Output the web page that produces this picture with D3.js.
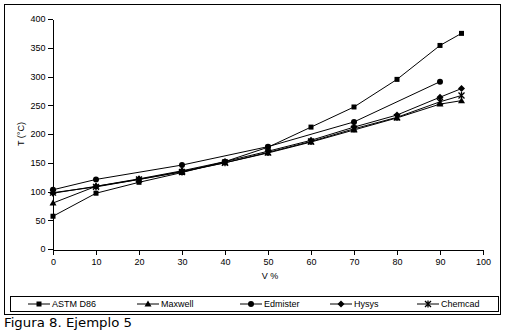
<!DOCTYPE html>
<html><head><meta charset="utf-8">
<script src="https://cdn.jsdelivr.net/npm/d3@7"></script>
<style>
html,body{margin:0;padding:0;background:#fff;}
svg{display:block;}
text{font-family:"Liberation Sans",Arial,sans-serif;fill:#000;}
</style></head>
<body>
<script>
// ---- data ----
const xTicks = [0,10,20,30,40,50,60,70,80,90,100];
const yTicks = [0,50,100,150,200,250,300,350,400];
const vFull = [0,10,20,30,40,50,60,70,80,90,95];
const vEdm  = [0,10,30,50,70,90];
const astm     = [57,97,116,133,152,177,212,247,295,354,375];
const maxwell  = [80,109,121,135,150,167,186,207,228,252,258];
const edmister = [103,121,146,178,221,291];
const hysys    = [97,109,122,136,152,170,189,212,233,264,279];
const chemcad  = [98,108,121,134,150,168,187,209,229,256,267];
const seriesNames = ["ASTM D86","Maxwell","Edmister","Hysys","Chemcad"];
const markerTypes = ["square","triangle","circle","diamond","star"];
const xTitle = "V %";
const yTitle = "T (°C)";
const caption = "Figura 8. Ejemplo 5";

const series = [
  {name:seriesNames[0], m:markerTypes[0], xs:vFull, ys:astm},
  {name:seriesNames[1], m:markerTypes[1], xs:vFull, ys:maxwell},
  {name:seriesNames[2], m:markerTypes[2], xs:vEdm,  ys:edmister},
  {name:seriesNames[3], m:markerTypes[3], xs:vFull, ys:hysys},
  {name:seriesNames[4], m:markerTypes[4], xs:vFull, ys:chemcad}
];

const W=509,H=332;
const svg=d3.select("body").append("svg").attr("width",W).attr("height",H);

// outer frame
svg.append("rect").attr("x",4.5).attr("y",4.5).attr("width",496).attr("height",310)
  .attr("fill","none").attr("stroke","#000").attr("stroke-width",1);

const x=d3.scaleLinear().domain([0,100]).range([53,483]);
const y=d3.scaleLinear().domain([0,400]).range([249,19]);

const gx=svg.append("g").attr("transform","translate(0,249.5)")
  .call(d3.axisBottom(x).tickValues(xTicks).tickSize(5).tickPadding(4).tickSizeOuter(0));
const gy=svg.append("g").attr("transform","translate(52.5,0)")
  .call(d3.axisLeft(y).tickValues(yTicks).tickSize(5).tickPadding(2).tickSizeOuter(0));
[gx,gy].forEach(g=>{
  g.selectAll("path,line").attr("stroke","#000").attr("shape-rendering","crispEdges");
  g.selectAll("text").attr("font-size","9px");
});

svg.append("text").attr("x",270).attr("y",279).attr("text-anchor","middle")
  .attr("font-size","9px").text(xTitle);
svg.append("text").attr("transform","translate(24,134) rotate(-90)").attr("text-anchor","middle")
  .attr("font-size","9px").text(yTitle);

function drawMarker(g,type,cx,cy){
  if(type==="square"){
    g.append("rect").attr("x",cx-2.5).attr("y",cy-2.5).attr("width",5).attr("height",5).attr("fill","#000");
  } else if(type==="triangle"){
    g.append("path").attr("d",`M${cx},${cy-3.5}L${cx+3.5},${cy+2.5}L${cx-3.5},${cy+2.5}Z`).attr("fill","#000");
  } else if(type==="circle"){
    g.append("circle").attr("cx",cx).attr("cy",cy).attr("r",3).attr("fill","#000");
  } else if(type==="diamond"){
    g.append("path").attr("d",`M${cx},${cy-3.5}L${cx+3.5},${cy}L${cx},${cy+3.5}L${cx-3.5},${cy}Z`).attr("fill","#000");
  } else if(type==="star"){
    g.append("path").attr("d",`M${cx-3},${cy-3}L${cx+3},${cy+3}M${cx-3},${cy+3}L${cx+3},${cy-3}M${cx},${cy-3.5}L${cx},${cy+3.5}`)
      .attr("stroke","#000").attr("stroke-width",1.3).attr("fill","none");
  }
}

const line=d3.line().x(d=>x(d[0])).y(d=>y(d[1]));
series.forEach(s=>{
  const pts=s.xs.map((v,i)=>[v,s.ys[i]]);
  svg.append("path").attr("d",line(pts)).attr("fill","none").attr("stroke","#000").attr("stroke-width",1);
});
series.forEach(s=>{
  const g=svg.append("g");
  s.xs.forEach((v,i)=>drawMarker(g,s.m,x(v),y(s.ys[i])));
});

// legend
svg.append("rect").attr("x",10.5).attr("y",296.5).attr("width",488).attr("height",15)
  .attr("fill","none").attr("stroke","#000");
const legX=[28,137,240,330,417];
series.forEach((s,i)=>{
  const g=svg.append("g");
  const x0=legX[i], ly=304;
  g.append("line").attr("x1",x0).attr("x2",x0+22).attr("y1",ly).attr("y2",ly).attr("stroke","#000");
  drawMarker(g,s.m,x0+11,ly);
  g.append("text").attr("x",x0+24).attr("y",ly+3.3).attr("font-size","9px").text(s.name);
});

svg.append("text").attr("x",4).attr("y",327).attr("font-size","12px")
  .style("font-family","'DejaVu Sans', sans-serif").attr("textLength",128)
  .attr("lengthAdjust","spacingAndGlyphs").text(caption);
</script>
</body></html>
